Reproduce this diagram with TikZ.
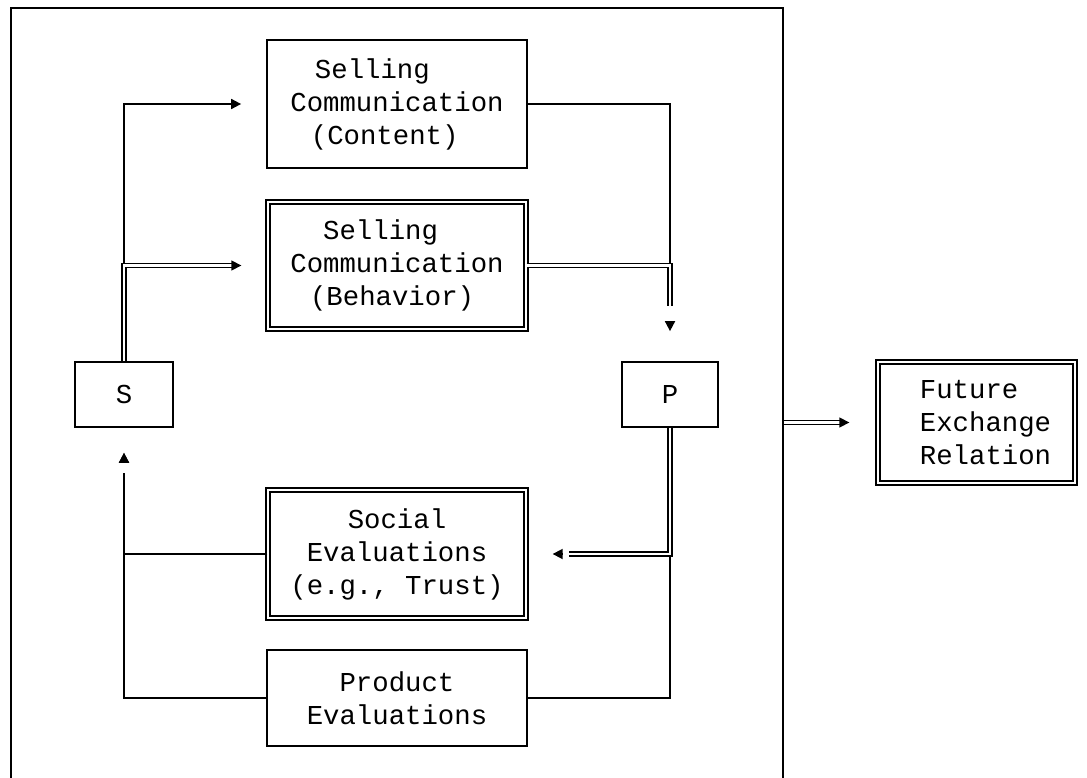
\documentclass[tikz,border=0pt]{standalone}
\usepackage{fontspec}
\newfontfamily\tw{Liberation Mono}
\usetikzlibrary{arrows.meta}
\begin{document}
\begin{tikzpicture}[x=0.75pt,y=-0.75pt,
  box/.style={draw, line width=1.3pt, inner sep=0pt, align=center,
    font=\tw\fontsize{20.5}{24.75}\selectfont},
  dbox/.style={box, double, line width=1pt, double distance=1.8pt},
  conn/.style={draw, line width=1.3pt},
  dconn/.style={draw, double, line width=1pt, double distance=1.8pt},
  tip/.style={-{Triangle[length=7.5pt,width=7.5pt]}},
  gaptip/.style={-{Rectangle[length=#1,width=5pt,color=white,sep=0pt] Triangle[length=7.5pt,width=7.5pt]}},
]
\useasboundingbox (0,0) rectangle (1087,777);
\clip (0,0) rectangle (1087,777);

% outer frame
\node[draw, line width=1.3pt, minimum width=579pt, minimum height=583pt, inner sep=0pt] (frame) at (397,396.5) {};

\node[box, minimum width=195pt, minimum height=96pt, align=left] (content) at (397,104)
  {\hspace*{0.9em}Selling\\Communication\\\hspace*{0.75em}(Content)};
\node[dbox, minimum width=193.5pt, minimum height=95.25pt, align=left] (behav) at (397,265.5)
  {\hspace*{1.2em}Selling\\Communication\\\hspace*{0.72em}(Behavior)};
\node[box, minimum width=73.5pt, minimum height=48.75pt] (S) at (124,394.5) {S};
\node[box, minimum width=72pt, minimum height=48.75pt] (P) at (670,394.5) {P};
\node[dbox, minimum width=193.5pt, minimum height=96pt] (social) at (397,554)
  {Social\\Evaluations\\(e.g., Trust)};
\node[box, minimum width=195pt, minimum height=72pt] (product) at (397,698)
  {Product\\Evaluations};
\node[dbox, minimum width=147.75pt, minimum height=90.75pt, align=left] (future) at (976.5,422.5)
  {\hspace*{0.66em}Future\\\hspace*{0.66em}Exchange\\\hspace*{0.66em}Relation};

% single connectors
\draw[conn, tip, shorten >=18.75pt] (S.north) |- (content.west);
\draw[conn, gaptip=11pt, shorten >=22.5pt] (content.east) -| (P.north);
\draw[conn] (P.south) |- (product.east);
\draw[conn, gaptip=7.5pt, shorten >=18.75pt] (social.west) -| (S.south);
\draw[conn, gaptip=7.5pt, shorten >=18.75pt] (product.west) -| (S.south);
\draw[conn, gaptip=5pt, shorten >=19.5pt] (P.south) |- (social.east);

% double connectors (drawn over the single lines)
\draw[dconn, tip, shorten >=19.5pt] (S.north) |- (behav.west);
\draw[dconn, shorten >=41pt] (behav.east) -| (P.north);
\draw[dconn, shorten >=32pt] (P.south) |- (social.east);
\draw[dconn, tip, shorten >=21pt] (future.west -| frame.east) -- (future.west);
\end{tikzpicture}
\end{document}
